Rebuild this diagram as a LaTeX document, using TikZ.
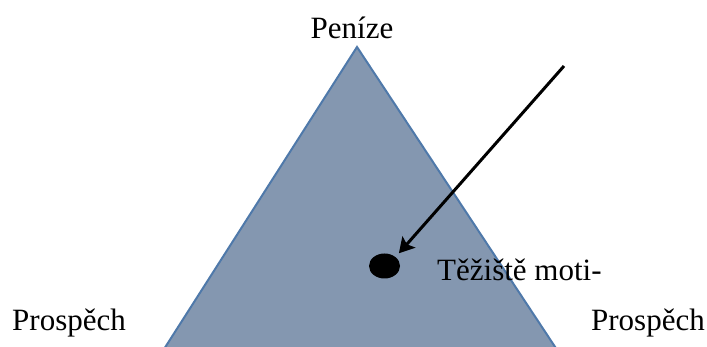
\documentclass[tikz,border=0pt]{standalone}
\usepackage{fontspec}
\setmainfont{Liberation Serif}
\usetikzlibrary{arrows.meta,positioning,shapes.geometric}
\definecolor{triFill}{HTML}{8497B0}
\definecolor{triEdge}{HTML}{4F79AA}

\begin{document}
\begin{tikzpicture}[
    x=1pt, y=-1pt,
    word/.style={font=\rmfamily\fontsize{31}{36}\selectfont, inner sep=0pt},
]
    \useasboundingbox (0,0) rectangle (707,347);
    \begin{scope}
        \clip (0,0) rectangle (707,347);
        \draw[triEdge, fill=triFill, line width=2pt] (357,47) -- (571,371) -- (150,371) -- cycle;
    \end{scope}
    \node[word] (money) at (352,28) {Peníze};
    \node[word, anchor=west] (left) at (12,323) {Prospěch};
    \node[word, anchor=east] (right) at (705,323) {Prospěch};
    \node[ellipse, fill=black, minimum width=31pt, minimum height=25pt, inner sep=0pt] (centre) at (384.5,266) {};
    \node[word, anchor=west] (focus) at (437,270) {Těžiště moti-};
    \coordinate (start) at (564,66);
    \draw[-{Stealth[length=15pt, width=17pt, inset=3pt]}, line width=3pt, shorten >=5pt] (start) -- (centre.north east);
\end{tikzpicture}
\end{document}
